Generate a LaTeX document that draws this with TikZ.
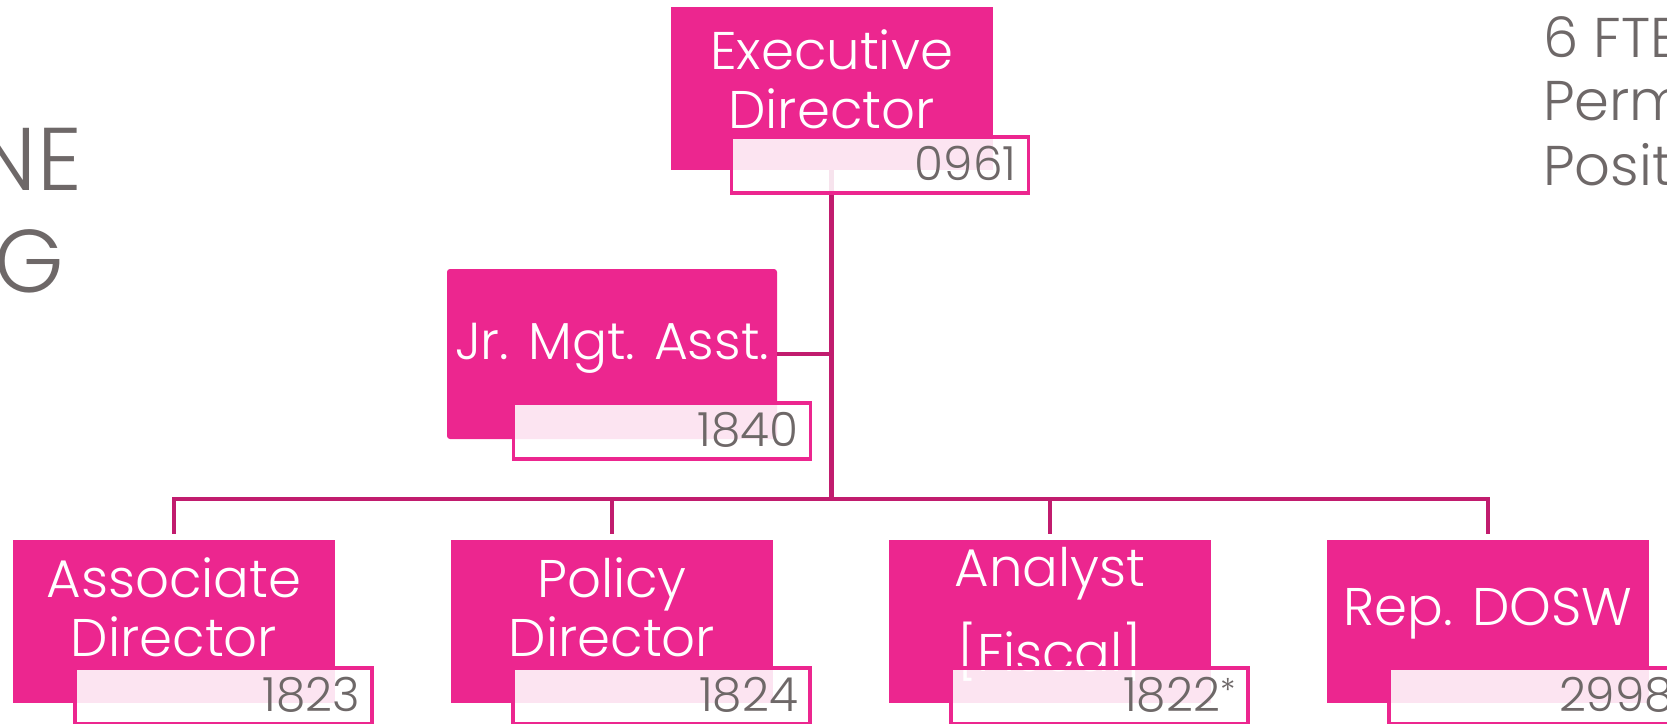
\documentclass[tikz,border=0pt]{standalone}
\usepackage{fontspec}
\setmainfont{Poppins Light}
\definecolor{orgpink}{HTML}{EC268F}
\definecolor{wirepink}{HTML}{C11C6E}
\definecolor{txtgray}{HTML}{6E6868}
\tikzset{
  posbox/.style={fill=orgpink, minimum width=322pt, minimum height=163pt, inner sep=0pt},
  postext/.style={text=white, align=center, inner sep=0pt, font=\fontsize{53}{59}\selectfont},
  numbox/.style={draw=orgpink, line width=3.5pt, fill=white, fill opacity=0.88, text opacity=1,
    text width=273pt, align=right, inner xsep=12pt, inner ysep=0pt, minimum height=56pt,
    text height=31pt, text depth=0pt, text=txtgray, font=\fontsize{47}{47}\selectfont},
  sidetext/.style={text=txtgray, inner sep=0pt},
  wire/.style={draw=wirepink, line width=4.5pt},
}
\begin{document}
\begin{tikzpicture}[x=1pt,y=-1pt]
\useasboundingbox (0,0) rectangle (1667,723);

% cut-off titles at the sides
\node[sidetext, anchor=base east, font=\fontsize{89}{89}\selectfont] (leftA) at (82,190) {NE};
\node[sidetext, anchor=base east, font=\fontsize{89}{89}\selectfont] (leftB) at (64,292) {G};
\node[sidetext, anchor=base west, font=\fontsize{56}{56}\selectfont] (fteA) at (1543,57) {6 FTE};
\node[sidetext, anchor=base west, font=\fontsize{56}{56}\selectfont] (fteB) at (1543,120) {Perm};
\node[sidetext, anchor=base west, font=\fontsize{56}{56}\selectfont] (fteC) at (1543,185) {Positi};

% positions
\node[posbox] (exec) at (831.5,88.5) {};
\node[postext] (exec-t) at (831.5,79) {Executive\\Director};
\node[posbox, minimum width=330pt, minimum height=170pt, rounded corners=3pt] (jr) at (612,354) {};
\node[postext, font=\fontsize{52}{56}\selectfont] (jr-t) at (612,348) {Jr. Mgt. Asst.};
\node[posbox] (assoc) at (174,621.5) {};
\node[postext] (assoc-t) at (174,607) {Associate\\Director};
\node[posbox] (policy) at (612,621.5) {};
\node[postext] (policy-t) at (612,607) {Policy\\Director};
\node[posbox] (analyst) at (1050,621.5) {};
\node[postext] (analyst-t) at (1050,614) {Analyst\\[21pt][Fiscal]};
\node[posbox] (rep) at (1488,621.5) {};
\node[postext] (rep-t) at (1488,614) {Rep. DOSW};

% reporting lines
\coordinate (bar) at (831.5,499);
\draw[wire] (exec.south) -- (bar);
\draw[wire] (jr.east) -- (jr.east -| bar);
\draw[wire] ([yshift=6pt]assoc.north) |- (bar) -| ([yshift=6pt]rep.north);
\draw[wire] ([yshift=6pt]policy.north) -- (policy.north |- bar);
\draw[wire] ([yshift=6pt]analyst.north) -- (analyst.north |- bar);

% position numbers
\node[numbox] (exec-n) at (880,165) {0961};
\node[numbox] (jr-n) at (662,431) {1840};
\node[numbox] (assoc-n) at (223.5,696) {1823};
\node[numbox] (policy-n) at (661.5,696) {1824};
\node[numbox] (analyst-n) at (1099.5,696) {1822\textsuperscript{*}};
\node[numbox] (rep-n) at (1537.5,696) {2998};
\end{tikzpicture}
\end{document}
